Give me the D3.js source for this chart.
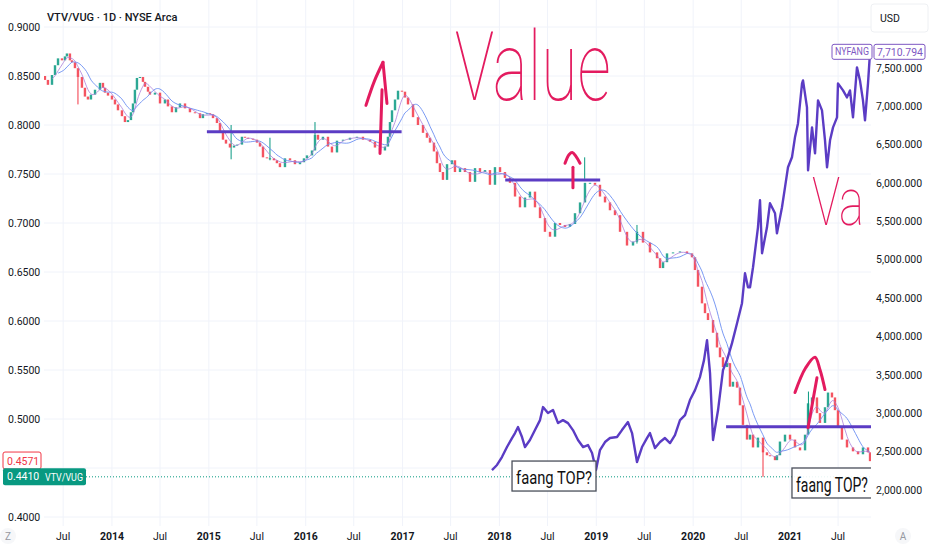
<!DOCTYPE html>
<html><head><meta charset="utf-8">
<script src="https://cdn.jsdelivr.net/npm/d3@7"></script>
<style>
body{margin:0;background:#fff;}
svg{display:block;}
text{font-family:Roboto,"Noto Sans",sans-serif;}
</style>
</head><body>
<svg id="c" width="932" height="550"></svg>
<script>
// ---------- DATA ----------
const vtvTime = [2013.277,2013.308,2013.339,2013.381,2013.412,2013.443,2013.484,2013.515,2013.535,2013.566,2013.587,2013.618,2013.649,2013.690,2013.721,2013.752,2013.783,2013.825,2013.876,2013.907,2013.928,2013.959,
2014.000,2014.031,2014.062,2014.103,2014.134,2014.165,2014.196,2014.217,2014.237,2014.258,2014.289,2014.320,2014.341,2014.372,2014.392,2014.444,2014.496,2014.547,2014.578,2014.619,2014.661,2014.702,2014.754,2014.805,2014.857,2014.909,2014.939,2014.981,
2015.012,2015.043,2015.084,2015.115,2015.146,2015.177,2015.218,2015.260,2015.291,2015.342,2015.373,2015.404,2015.456,2015.497,2015.528,2015.559,2015.600,2015.631,2015.672,2015.703,2015.734,2015.786,2015.838,2015.889,2015.941,2015.982,
2016.013,2016.065,2016.096,2016.127,2016.178,2016.230,2016.271,2016.323,2016.385,2016.457,2016.529,2016.591,2016.664,2016.715,2016.767,2016.818,2016.849,2016.870,2016.891,2016.922,2016.953,2016.994,
2017.025,2017.056,2017.108,2017.159,2017.211,2017.252,2017.283,2017.324,2017.355,2017.386,2017.417,2017.459,2017.510,2017.541,2017.593,2017.644,2017.696,2017.748,2017.799,2017.851,2017.902,2017.954,
2018.006,2018.057,2018.109,2018.161,2018.212,2018.264,2018.315,2018.367,2018.419,2018.470,2018.522,2018.574,2018.625,2018.677,2018.728,2018.780,2018.832,2018.883,2018.935,2018.986,
2019.038,2019.090,2019.141,2019.193,2019.245,2019.317,2019.379,2019.420,2019.482,2019.554,2019.627,2019.658,2019.689,2019.730,2019.792,2019.864,2019.936,2019.988,
2020.019,2020.050,2020.091,2020.122,2020.153,2020.205,2020.246,2020.277,2020.308,2020.349,2020.380,2020.411,2020.453,2020.483,2020.514,2020.556,2020.587,2020.618,2020.669,2020.721,2020.762,2020.793,2020.845,2020.865,2020.896,2020.948,
2021.000,2021.051,2021.103,2021.155,2021.186,2021.227,2021.278,2021.309,2021.361,2021.392,2021.433,2021.464,2021.495,2021.536,2021.588,2021.650,2021.702,2021.753,2021.805,2021.826];
const vtvClose = [0.850,0.846,0.841,0.851,0.861,0.868,0.866,0.870,0.873,0.866,0.864,0.858,0.849,0.838,0.829,0.826,0.831,0.836,0.843,0.838,0.833,0.830,
0.826,0.821,0.815,0.809,0.803,0.805,0.813,0.822,0.836,0.848,0.849,0.844,0.839,0.834,0.831,0.833,0.822,0.826,0.819,0.813,0.818,0.822,0.817,0.813,0.812,0.807,0.811,0.812,
0.811,0.807,0.802,0.792,0.785,0.781,0.777,0.779,0.780,0.788,0.787,0.786,0.785,0.782,0.778,0.767,0.766,0.766,0.764,0.761,0.757,0.766,0.764,0.760,0.762,0.766,
0.769,0.774,0.790,0.785,0.788,0.778,0.772,0.784,0.785,0.787,0.788,0.785,0.783,0.777,0.774,0.778,0.788,0.803,0.815,0.826,0.835,0.834,
0.828,0.821,0.808,0.800,0.792,0.787,0.782,0.773,0.761,0.752,0.744,0.760,0.764,0.752,0.756,0.752,0.742,0.756,0.752,0.754,0.739,0.757,
0.752,0.746,0.741,0.727,0.716,0.726,0.732,0.716,0.705,0.691,0.686,0.700,0.698,0.696,0.699,0.710,0.721,0.741,0.741,0.739,
0.727,0.721,0.713,0.708,0.691,0.677,0.681,0.691,0.680,0.670,0.664,0.654,0.660,0.669,0.670,0.671,0.669,0.665,
0.652,0.635,0.618,0.608,0.601,0.588,0.573,0.563,0.553,0.557,0.533,0.538,0.532,0.514,0.494,0.479,0.484,0.471,0.481,0.466,0.463,0.462,0.458,0.463,0.477,0.484,
0.479,0.471,0.468,0.484,0.516,0.522,0.506,0.496,0.512,0.527,0.522,0.509,0.492,0.479,0.471,0.467,0.464,0.471,0.466,0.457];

// notable long wicks
const wickTime = [2013.649,2015.230,2015.631,2016.096,2018.880,2019.420,2020.721,2021.190];
const wickLow  = [0.821,0.765,0.764,0.790,0.745,0.679,0.441,0.500];
const wickHigh = [0.849,0.800,0.787,0.803,0.767,0.698,0.468,0.528];

const fangTime = [2017.923,2017.975,2018.026,2018.078,2018.130,2018.161,2018.192,2018.233,2018.264,2018.315,2018.367,2018.419,2018.450,2018.501,2018.553,2018.605,2018.656,2018.708,2018.759,2018.811,2018.863,2018.914,2018.956,2018.997,
2019.038,2019.090,2019.141,2019.214,2019.265,2019.327,2019.369,2019.420,2019.472,2019.523,2019.554,2019.606,2019.658,2019.709,2019.761,2019.812,2019.864,2019.916,2019.967,
2020.019,2020.070,2020.112,2020.143,2020.174,2020.205,2020.257,2020.308,2020.349,2020.401,2020.453,2020.504,2020.535,2020.566,2020.587,2020.618,2020.669,2020.690,2020.711,2020.762,2020.793,2020.845,2020.865,2020.917,2020.948,2020.979,
2021.020,2021.051,2021.082,2021.124,2021.134,2021.175,2021.186,2021.227,2021.258,2021.289,2021.330,2021.361,2021.382,2021.413,2021.444,2021.485,2021.495,2021.547,2021.588,2021.619,2021.650,2021.691,2021.722,2021.753,2021.774,2021.805,2021.826];
const fangClose = [2260,2326,2430,2560,2677,2742,2820,2690,2560,2651,2781,2911,3081,3003,3042,2872,2911,2872,2781,2651,2560,2586,2482,2260,
2521,2625,2677,2690,2781,2885,2742,2365,2560,2677,2742,2547,2625,2677,2612,2716,2911,2977,3172,
3302,3471,3693,3953,3523,2651,3042,3562,3693,3914,4174,4435,4825,4643,4643,4903,5424,5776,5086,5424,5737,5607,5346,5685,5945,6206,
6336,6596,6778,7299,7338,6987,6166,6726,6388,7078,6948,6557,6206,6557,6726,6857,7299,7208,7117,7208,6857,7508,7338,7078,6817,7299,7710.794];

const leftTicks  = [0.9,0.85,0.8,0.75,0.7,0.65,0.6,0.55,0.5,0.4];
const gridTicks  = [0.9,0.85,0.8,0.75,0.7,0.65,0.6,0.55,0.5,0.45,0.4];
const rightTicks = [7500,7000,6500,6000,5500,5000,4500,4000,3500,3000,2500,2000];
const xTickValues = [2013.496,2014,2014.496,2015,2015.496,2016,2016.496,2017,2017.496,2018,2018.496,2019,2019.496,2020,2020.496,2021,2021.496];
const xTickLabels = ["Jul","2014","Jul","2015","Jul","2016","Jul","2017","Jul","2018","Jul","2019","Jul","2020","Jul","2021","Jul"];

// drawn horizontal levels (VTV/VUG scale)
const levelStart = [2014.98,2018.06,2020.34];
const levelEnd   = [2016.99,2019.04,2021.90];
const levelValue = [0.793,0.744,0.492];

// hand-drawn red strokes, [time, VTV/VUG value]
const redStrokes = [
  [[2016.767,0.771],[2016.788,0.836]],
  [[2016.622,0.820],[2016.710,0.845],[2016.798,0.864]],
  [[2016.798,0.864],[2016.839,0.822]],
  [[2018.759,0.736],[2018.759,0.757]],
  [[2018.677,0.761],[2018.720,0.770],[2018.752,0.772],[2018.790,0.768],[2018.832,0.761]],
  [[2021.186,0.491],[2021.278,0.542]],
  [[2021.051,0.527],[2021.160,0.552],[2021.258,0.563],[2021.310,0.550],[2021.361,0.530]]
];

const lastVTV = 0.4571, lowVTV = 0.4410, lastFang = 7710.794;

// ---------- SCALES ----------
const svg = d3.select("#c");
const plotL = 44, plotR = 871, plotB = 526;
const x  = d3.scaleLinear().domain([2013, 2022]).range([15.1, 886.9]);
const yL = d3.scaleLinear().domain([0.4, 0.9]).range([517, 27]);
const yR = d3.scaleLinear().domain([2000, 7500]).range([490, 68]);

// place a text at (x0,y0) and squeeze it horizontally to width w
function fitText(sel, x0, y0, w){
  sel.attr("x",0).attr("y",0);
  const nat = sel.node().getComputedTextLength();
  const s = nat > 0 ? w/nat : 1;
  sel.attr("transform",`translate(${x0},${y0}) scale(${s},1)`);
  return sel;
}

svg.append("defs").append("clipPath").attr("id","plot")
  .append("rect").attr("x",plotL).attr("y",0).attr("width",plotR-plotL).attr("height",plotB);

// grid
const grid = svg.append("g").attr("clip-path","url(#plot)");
grid.selectAll("line.h").data(gridTicks).join("line")
  .attr("x1",plotL).attr("x2",plotR).attr("y1",d=>yL(d)).attr("y2",d=>yL(d))
  .attr("stroke","#f0f3fa").attr("stroke-width",1);
grid.selectAll("line.v").data(xTickValues).join("line")
  .attr("x1",d=>x(d)).attr("x2",d=>x(d)).attr("y1",0).attr("y2",plotB)
  .attr("stroke","#f0f3fa").attr("stroke-width",1);

const plot = svg.append("g").attr("clip-path","url(#plot)");

// low dotted line
plot.append("line").attr("x1",plotL).attr("x2",plotR)
  .attr("y1",yL(lowVTV)).attr("y2",yL(lowVTV))
  .attr("stroke","#089981").attr("stroke-width",1).attr("stroke-dasharray","1,2");

// candles
const up = "#089981", dn = "#f23645";
const candles = vtvTime.map((t,i)=>({t, o: i?vtvClose[i-1]:vtvClose[i], c: vtvClose[i]}));
const wicks = wickTime.map((t,i)=>({t, lo: wickLow[i], hi: wickHigh[i]}));
plot.selectAll("line.wick").data(wicks).join("line")
  .attr("x1",d=>x(d.t)).attr("x2",d=>x(d.t))
  .attr("y1",d=>yL(d.lo)).attr("y2",d=>yL(d.hi))
  .attr("stroke",d=>{
    const i = d3.bisectLeft(vtvTime,d.t); const k = Math.min(i,candles.length-1);
    return candles[k].c>=candles[k].o?up:dn; })
  .attr("stroke-width",1);
plot.selectAll("rect.cdl").data(candles).join("rect")
  .attr("x",d=>x(d.t)-1.2).attr("width",2.4)
  .attr("y",d=>yL(Math.max(d.o,d.c)))
  .attr("height",d=>Math.max(1,Math.abs(yL(d.o)-yL(d.c))))
  .attr("fill",d=>d.c>=d.o?up:dn).attr("opacity",0.85);

// moving averages (derived from closes)
function sma(win){
  const out=[];
  for(let i=0;i<vtvTime.length;i++){
    if(vtvTime[i]-vtvTime[0] < win*0.6) continue;
    let s=0,n=0;
    for(let j=i;j>=0 && vtvTime[i]-vtvTime[j] <= win; j--){ s+=vtvClose[j]; n++; }
    out.push([vtvTime[i], s/n]);
  }
  return out;
}
const lineL = d3.line().x(d=>x(d[0])).y(d=>yL(d[1])).curve(d3.curveBasis);
plot.append("path").attr("d",lineL(sma(0.24))).attr("fill","none")
  .attr("stroke","#6b8ff2").attr("stroke-width",1).attr("opacity",0.9);
plot.append("path").attr("d",lineL(sma(0.11))).attr("fill","none")
  .attr("stroke","#a77ad8").attr("stroke-width",1).attr("opacity",0.75);

// NYFANG
const purple = "#5b3cc4";
const fang = fangTime.map((t,i)=>[t,fangClose[i]]);
plot.append("path")
  .attr("d",d3.line().x(d=>x(d[0])).y(d=>yR(d[1])).curve(d3.curveLinear)(fang))
  .attr("fill","none").attr("stroke",purple).attr("stroke-width",2.4)
  .attr("stroke-linejoin","round");

// horizontal levels
plot.selectAll("line.lvl").data(levelValue).join("line")
  .attr("x1",(d,i)=>x(levelStart[i])).attr("x2",(d,i)=>x(levelEnd[i]))
  .attr("y1",d=>yL(d)).attr("y2",d=>yL(d))
  .attr("stroke",purple).attr("stroke-width",3);

// red hand strokes
const red = "#e31b5f";
const lineS = d3.line().x(d=>x(d[0])).y(d=>yL(d[1])).curve(d3.curveCatmullRom);
plot.selectAll("path.red").data(redStrokes).join("path")
  .attr("d",d=>lineS(d)).attr("fill","none").attr("stroke",red)
  .attr("stroke-width",3).attr("stroke-linecap","round").attr("stroke-linejoin","round");

// handwritten words
fitText(plot.append("text").attr("font-size",96).attr("font-weight",100).attr("fill",red).text("Value"),
  x(2017.54), yL(0.826), 156);
fitText(plot.append("text").attr("font-size",66).attr("font-weight",100).attr("fill",red).text("Va"),
  x(2021.227), yL(0.698), 52);

// faang TOP? boxes
function tbox(t0,t1,v0,v1,tx,ty,fs,tl){
  const g = plot.append("g");
  g.append("rect").attr("x",x(t0)).attr("y",yL(v0)).attr("width",x(t1)-x(t0)).attr("height",yL(v1)-yL(v0))
    .attr("fill","#fff").attr("fill-opacity",0.9).attr("stroke","#4a4f5a").attr("stroke-width",1.3);
  const t = g.append("text").attr("font-size",fs)
    .attr("font-family","'Liberation Sans Narrow','Open Sans',sans-serif").attr("fill","#111")
    .text("faang TOP?");
  fitText(t, x(t0)+tx, yL(v1)-ty, tl);
}
tbox(2018.130,2018.997,0.4571,0.4265,4,7,19,76);
tbox(2021.020,2021.900,0.4500,0.4194,4,6,20,72);

// ---------- AXES / LABELS ----------
const fmtL = d3.format(".4f");
svg.selectAll("text.lt").data(leftTicks).join("text")
  .attr("x",8).attr("y",d=>yL(d)).attr("dy","0.35em")
  .attr("font-size",10.5).attr("fill","#131722").text(d=>fmtL(d));

const fmtR = v => d3.format(",.3f")(v);
svg.selectAll("text.rt").data(rightTicks).join("text")
  .attr("x",876).attr("y",d=>yR(d)).attr("dy","0.35em")
  .attr("font-size",10.5).attr("fill","#131722").text(d=>fmtR(d));

svg.selectAll("text.xt").data(xTickValues).join("text")
  .attr("x",d=>x(d)).attr("y",536).attr("dy","0.35em").attr("text-anchor","middle")
  .attr("font-size",10.5).attr("fill","#131722")
  .attr("font-weight",(d,i)=>xTickLabels[i]==="Jul"?400:700)
  .text((d,i)=>xTickLabels[i]);

// title
svg.append("text").attr("x",47).attr("y",17).attr("dy","0.35em")
  .attr("font-size",11).attr("font-weight",500).attr("fill","#131722")
  .text("VTV/VUG · 1D · NYSE Arca");

// USD box
svg.append("rect").attr("x",871).attr("y",4).attr("width",57).attr("height",28).attr("rx",3)
  .attr("fill","#fff").attr("stroke","#eef0f3");
svg.append("text").attr("x",880).attr("y",18).attr("dy","0.35em").attr("font-size",10.5)
  .attr("fill","#131722").text("USD");

// NYFANG labels
const fy = yR(lastFang);
const lav = "#7e57c2";
svg.append("rect").attr("x",832).attr("y",fy-7.5).attr("width",40).attr("height",15).attr("rx",2)
  .attr("fill","#fff").attr("stroke",lav);
fitText(svg.append("text").attr("dy","0.35em").attr("font-size",10).attr("fill",lav).text("NYFANG"),
  835, fy, 34);
svg.append("rect").attr("x",874).attr("y",fy-7.5).attr("width",51).attr("height",15).attr("rx",2)
  .attr("fill","#fff").attr("stroke",lav);
fitText(svg.append("text").attr("dy","0.35em").attr("font-size",10.5).attr("fill",lav).text(d3.format(",.3f")(lastFang)),
  877, fy, 46);

// left price labels
const ly1 = yL(lastVTV);
svg.append("rect").attr("x",3).attr("y",ly1-9).attr("width",38).attr("height",17).attr("rx",2)
  .attr("fill","#fff").attr("stroke","#f23645");
svg.append("text").attr("x",7).attr("y",ly1).attr("dy","0.35em").attr("font-size",10.5)
  .attr("fill","#f23645").text(fmtL(lastVTV));
const ly2 = yL(lowVTV);
svg.append("rect").attr("x",3).attr("y",ly2-8.5).attr("width",83).attr("height",17).attr("rx",2)
  .attr("fill","#089981");
svg.append("text").attr("x",7).attr("y",ly2).attr("dy","0.35em").attr("font-size",10.5)
  .attr("fill","#fff").text(fmtL(lowVTV));
fitText(svg.append("text").attr("dy","0.35em").attr("font-size",10.5).attr("fill","#fff").text("VTV/VUG"),
  45, ly2, 38);

// corner buttons
svg.append("circle").attr("cx",8).attr("cy",536).attr("r",8).attr("fill","#f6f7f9");
svg.append("text").attr("x",8).attr("y",536).attr("dy","0.35em").attr("text-anchor","middle")
  .attr("font-size",10).attr("fill","#9598a1").text("Z");
svg.append("circle").attr("cx",903).attr("cy",536).attr("r",8).attr("fill","#f6f7f9");
svg.append("text").attr("x",903).attr("y",536).attr("dy","0.35em").attr("text-anchor","middle")
  .attr("font-size",10).attr("fill","#9598a1").text("A");
</script>
</body></html>
